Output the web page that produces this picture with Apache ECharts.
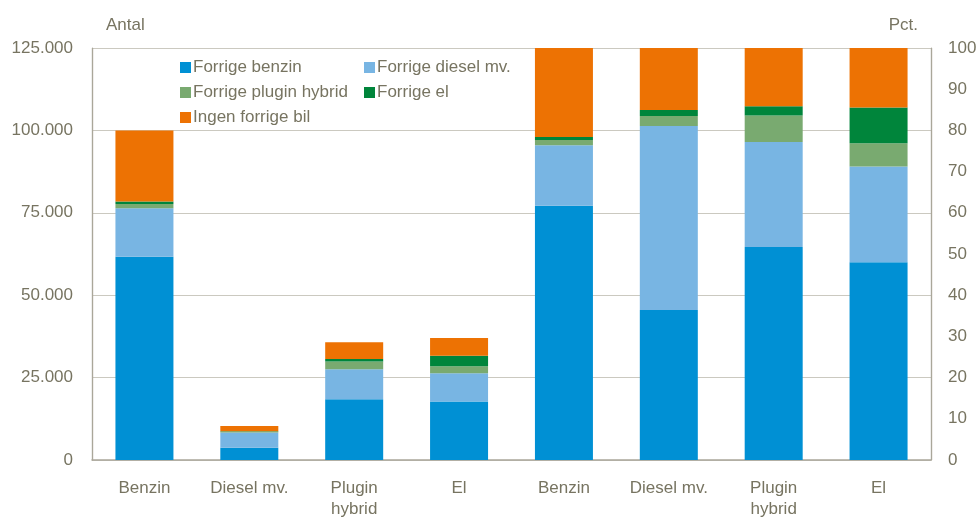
<!DOCTYPE html>
<html><head><meta charset="utf-8">
<script src="https://cdn.jsdelivr.net/npm/echarts@6/dist/echarts.min.js"></script>
<style>html,body{margin:0;padding:0;background:#fff}#c{width:979px;height:517px}</style>
</head><body><div id="c"></div>
<script>
const categories = ['Benzin', 'Diesel mv.', 'Plugin\nhybrid', 'El'];
const seriesNames = ['Forrige benzin', 'Forrige diesel mv.', 'Forrige plugin hybrid', 'Forrige el', 'Ingen forrige bil'];
const forrigeBenzin = [61700, 3750, 18450, 17750];
const forrigeDiesel = [14700, 4600, 9100, 8600];
const forrigePlugin = [1300, 250, 2300, 2100];
const forrigeEl = [700, 150, 800, 3200];
const ingenForrige = [21600, 1550, 5050, 5350];
const leftTicks = { min: 0, max: 125000, interval: 25000 };
const rightTicks = { min: 0, max: 100, interval: 10 };
const colors = ['#0090d4', '#78b5e3', '#79aa70', '#00853b', '#ed7203'];

const counts = [forrigeBenzin, forrigeDiesel, forrigePlugin, forrigeEl, ingenForrige];
const totals = categories.map((_, i) => counts.reduce((s, a) => s + a[i], 0));
const pcts = counts.map(a => a.map((v, i) => v / totals[i] * 100));
const allCats = categories.concat(categories);
const blank = categories.map(() => '-');

const textColor = '#777461';
const font = 'Liberation Sans';
const series = [];
counts.forEach((arr, k) => {
  series.push({ name: seriesNames[k], type: 'bar', stack: 'antal', yAxisIndex: 0,
    data: arr.concat(blank), itemStyle: { color: colors[k] }, barWidth: 58, barGap: '-100%' });
});
pcts.forEach((arr, k) => {
  series.push({ name: seriesNames[k], type: 'bar', stack: 'pct', yAxisIndex: 1,
    data: blank.concat(arr), itemStyle: { color: colors[k] }, barWidth: 58, barGap: '-100%' });
});

const chart = echarts.init(document.getElementById('c'));
chart.setOption({
  animation: false,
  textStyle: { fontFamily: font },
  title: [
    { text: 'Antal', left: 101, top: 12, textStyle: { fontFamily: font, fontSize: 17, fontWeight: 'normal', color: textColor } },
    { text: 'Pct.', right: 56, top: 12, textStyle: { fontFamily: font, fontSize: 17, fontWeight: 'normal', color: textColor } }
  ],
  legend: [
    { data: [seriesNames[0], seriesNames[2], seriesNames[4]], orient: 'vertical', left: 175, top: 54,
      itemWidth: 11, itemHeight: 11, itemGap: 8, icon: 'rect',
      textStyle: { fontFamily: font, fontSize: 17, color: textColor, padding: [0, 0, 0, -3] } },
    { data: [seriesNames[1], seriesNames[3]], orient: 'vertical', left: 359, top: 54,
      itemWidth: 11, itemHeight: 11, itemGap: 8, icon: 'rect',
      textStyle: { fontFamily: font, fontSize: 17, color: textColor, padding: [0, 0, 0, -3] } }
  ],
  grid: { left: 92, right: 48, top: 48, bottom: 57, containLabel: false, outerBoundsMode: 'none' },
  xAxis: {
    type: 'category', data: allCats,
    axisLine: { lineStyle: { color: '#aaa79a', width: 1.5 } },
    axisTick: { show: false },
    axisLabel: { color: textColor, fontSize: 17, margin: 18, lineHeight: 21, fontFamily: font },
    splitLine: { show: true, interval: (i) => i === 4, lineStyle: { color: '#aaa79a', width: 1.2 } }
  },
  yAxis: [
    { type: 'value', min: leftTicks.min, max: leftTicks.max, interval: leftTicks.interval,
      axisLine: { show: true, lineStyle: { color: '#aaa79a', width: 1.2 } },
      axisTick: { show: false },
      axisLabel: { color: textColor, fontSize: 17, margin: 19, fontFamily: font,
        formatter: v => String(v).replace(/\B(?=(\d{3})+(?!\d))/g, '.') },
      splitLine: { lineStyle: { color: '#cbc9c0', width: 1.2 } } },
    { type: 'value', position: 'right', min: rightTicks.min, max: rightTicks.max, interval: rightTicks.interval,
      axisLine: { show: true, lineStyle: { color: '#aaa79a', width: 1.2 } },
      axisTick: { show: false },
      axisLabel: { color: textColor, fontSize: 17, margin: 17, fontFamily: font },
      splitLine: { show: false } }
  ],
  series: series
});
</script></body></html>
